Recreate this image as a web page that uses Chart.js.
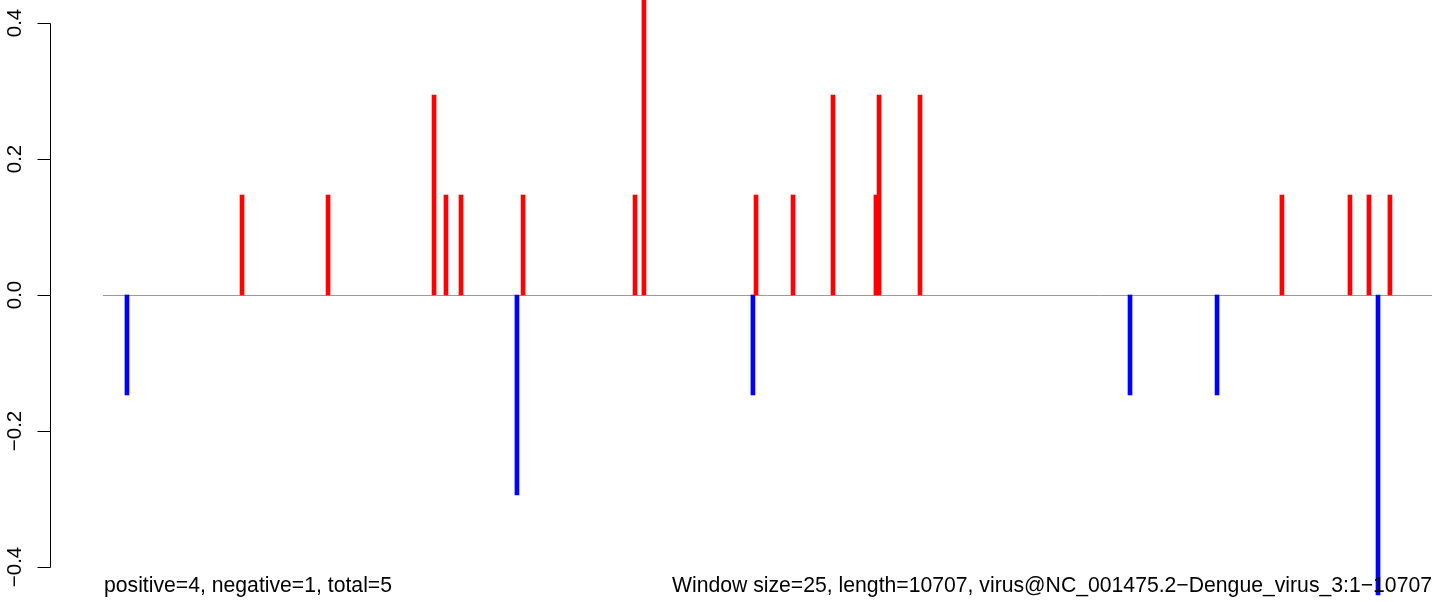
<!DOCTYPE html>
<html>
<head>
<meta charset="utf-8">
<script src="https://cdn.jsdelivr.net/npm/chart.js@4.4.1/dist/chart.umd.min.js"></script>
<style>
  html, body { margin: 0; padding: 0; background: #fff; }
  #wrap { width: 1444px; height: 602px; }
</style>
</head>
<body>
<div id="wrap"><canvas id="chart" width="1444" height="602"></canvas></div>
<script>
// sequence length and window positions with their scores
const seqLength = 10707

const positiveX = [1120, 1813, 2667, 2763, 2884, 3384, 4286, 4358, 5261, 5559, 5881, 6252, 6227, 6582, 9498, 10046, 10199, 10368]
const positiveY = [0.147, 0.147, 0.294, 0.147, 0.147, 0.147, 0.147, 0.441, 0.147, 0.147, 0.294, 0.294, 0.147, 0.294, 0.147, 0.147, 0.147, 0.147]

const negativeX = [193, 3335, 5236, 8274, 8975, 10272]
const negativeY = [-0.147, -0.294, -0.147, -0.147, -0.147, -0.441]

const yTicks      = [-0.4, -0.2, 0.0, 0.2, 0.4]
const yTickLabels = ["\u22120.4", "\u22120.2", "0.0", "0.2", "0.4"]

const leftNote  = "positive=4, negative=1, total=5"
const rightNote = "Window size=25, length=10707, virus@NC_001475.2\u2212Dengue_virus_3:1\u221210707"

const FONT = "Liberation Sans, Arial, Helvetica, sans-serif"

const toPoints = (xs, ys) => xs.map((x, i) => ({ x, y: ys[i] }))

// zero line under the bars
const zeroLine = {
  id: "zeroLine",
  beforeDatasetsDraw(chart) {
    const { ctx, chartArea, scales } = chart
    const y0 = Math.round(scales.y.getPixelForValue(0)) + 0.5
    ctx.save()
    ctx.strokeStyle = "#9a9a9a"
    ctx.lineWidth = 1
    ctx.beginPath()
    ctx.moveTo(chartArea.left, y0)
    ctx.lineTo(chartArea.right, y0)
    ctx.stroke()
    ctx.restore()
  },
}

// R style left axis (line spans first..last tick, labels parallel to axis) + bottom notes
const baseAxis = {
  id: "baseAxis",
  afterDraw(chart) {
    const { ctx, scales } = chart
    const y = scales.y
    const axisX = 50.5
    const tickLen = 13
    const top = Math.round(y.getPixelForValue(yTicks[yTicks.length - 1])) + 0.5
    const bottom = Math.round(y.getPixelForValue(yTicks[0])) + 0.5
    ctx.save()
    ctx.strokeStyle = "#000"
    ctx.lineWidth = 1
    ctx.beginPath()
    ctx.moveTo(axisX, top)
    ctx.lineTo(axisX, bottom)
    yTicks.forEach((v) => {
      const py = Math.round(y.getPixelForValue(v)) + 0.5
      ctx.moveTo(axisX - tickLen, py)
      ctx.lineTo(axisX, py)
    })
    ctx.stroke()

    ctx.fillStyle = "#000"
    ctx.font = `20.5px ${FONT}`
    ctx.textAlign = "center"
    ctx.textBaseline = "alphabetic"
    yTicks.forEach((v, i) => {
      const py = y.getPixelForValue(v)
      ctx.save()
      ctx.translate(20.5, py)
      ctx.rotate(-Math.PI / 2)
      ctx.fillText(yTickLabels[i], 0, 0)
      ctx.restore()
    })

    ctx.font = `21.2px ${FONT}`
    ctx.textAlign = "left"
    ctx.fillText(leftNote, 104, 592)
    ctx.textAlign = "right"
    ctx.fillText(rightNote, 1432, 592)
    ctx.restore()
  },
}

new Chart(document.getElementById("chart"), {
  type: "bar",
  data: {
    datasets: [
      {
        label: "positive",
        data: toPoints(positiveX, positiveY),
        backgroundColor: "#ff0000",
        barThickness: 4,
        grouped: false,
      },
      {
        label: "negative",
        data: toPoints(negativeX, negativeY),
        backgroundColor: "#0000ff",
        barThickness: 4,
        grouped: false,
      },
    ],
  },
  options: {
    responsive: false,
    devicePixelRatio: 1,
    animation: false,
    layout: { padding: { left: 103, right: 12, top: 0, bottom: 0 } },
    scales: {
      x: { type: "linear", min: 0, max: seqLength, offset: false, display: false },
      y: { type: "linear", min: -0.4515, max: 0.4338, display: false },
    },
    plugins: {
      legend: { display: false },
      tooltip: { enabled: false },
    },
  },
  plugins: [zeroLine, baseAxis],
})
</script>
</body>
</html>
